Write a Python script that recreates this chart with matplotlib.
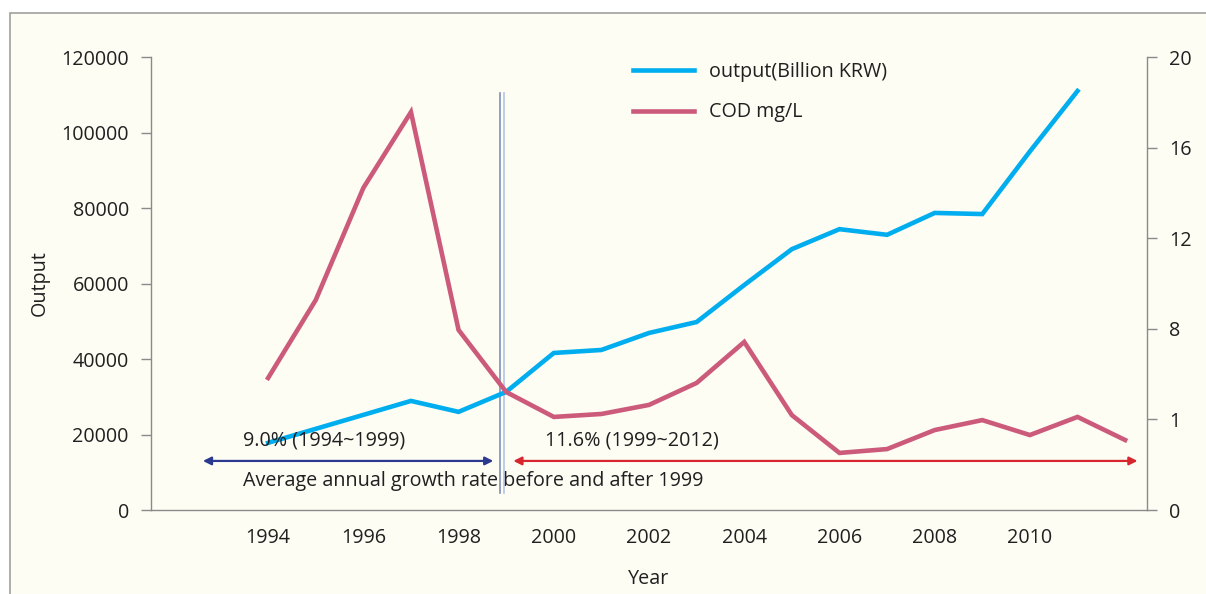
import numpy as np
import matplotlib.pyplot as plt
from matplotlib.patches import Rectangle
from matplotlib.lines import Line2D

plt.rcParams['font.family'] = ['Open Sans', 'DejaVu Sans']

# data
out_years = [1994, 1995, 1996, 1997, 1998, 1999, 2000, 2001, 2002, 2003,
             2004, 2005, 2006, 2007, 2008, 2009, 2010, 2011]
output = [17800, 21500, 25200, 28900, 26000, 31300, 41600, 42400, 46900, 49800,
          59600, 69100, 74400, 72900, 78700, 78400, 95000, 111000]

cod_years = [1994, 1995, 1996, 1997, 1998, 1999, 2000, 2001, 2002, 2003,
             2004, 2005, 2006, 2007, 2008, 2009, 2010, 2011, 2012]
cod = [5.83, 9.27, 14.22, 17.57, 7.95, 5.21, 4.11, 4.24, 4.64, 5.61,
       7.42, 4.19, 2.52, 2.69, 3.53, 3.97, 3.31, 4.11, 3.09]

xticks = [1994, 1996, 1998, 2000, 2002, 2004, 2006, 2008, 2010]
left_ticks = [0, 20000, 40000, 60000, 80000, 100000, 120000]
right_ticks = [0, 4, 8, 12, 16, 20]
right_labels = ['0', '1', '8', '12', '16', '20']

blue = '#00AEEF'
pink = '#CB5A7B'
cream = '#FDFDF4'
grey = '#8A8A8A'
txt = '#231F20'
fs = 14.2

fig = plt.figure(figsize=(12.06, 5.94), dpi=100)
fig.patch.set_facecolor('white')
fig.add_artist(Rectangle((10 / 1206, -0.01), 1.0, 0.9781 + 0.01,
                         transform=fig.transFigure, facecolor=cream,
                         edgecolor='#A0A0A0', linewidth=1.2, zorder=-10))

ax = fig.add_axes([0.1252, 0.1414, 0.8259, 0.7626])
ax.set_facecolor('none')
ax2 = ax.twinx()

ax.plot(out_years, output, color=blue, lw=3.3, solid_joinstyle='miter', zorder=3)
ax2.plot(cod_years, cod, color=pink, lw=3.3, solid_joinstyle='miter', zorder=2)

ax.set_xlim(1991.54, 2012.46)
ax.set_ylim(0, 120000)
ax2.set_ylim(0, 20)

ax.set_xticks(xticks)
ax.set_xticklabels([str(y) for y in xticks])
ax.set_yticks(left_ticks)
ax2.set_yticks(right_ticks)
ax2.set_yticklabels(right_labels)

for a in (ax, ax2):
    a.spines['top'].set_visible(False)
    for s in ('left', 'right', 'bottom'):
        a.spines[s].set_color(grey)
        a.spines[s].set_linewidth(1.0)
    a.tick_params(axis='y', length=7, width=1.0, color=grey, labelsize=fs,
                  labelcolor=txt, pad=9)
ax.spines['right'].set_visible(False)
ax2.spines['left'].set_visible(False)
ax2.spines['bottom'].set_visible(False)
ax.tick_params(axis='x', length=0, labelsize=fs, labelcolor=txt, pad=13)

ax.set_ylabel('Output', fontsize=fs, color=txt, labelpad=8)
ax.set_xlabel('Year', fontsize=fs, color=txt, labelpad=15)

# 1999 divider
ax.axvline(1998.87, ymin=0.038, ymax=0.92, color='#7F8FBF', lw=1.2, zorder=1)
ax.axvline(1998.95, ymin=0.038, ymax=0.92, color='#B4C4E4', lw=1.2, zorder=1)

# growth-rate arrows
arrow_y = 13000
ax.annotate('', xy=(1992.63, arrow_y), xytext=(1998.73, arrow_y),
            arrowprops=dict(arrowstyle='<|-|>', color='#2B3A8F', lw=1.6,
                            mutation_scale=12, shrinkA=0, shrinkB=0))
ax.annotate('', xy=(1999.15, arrow_y), xytext=(2012.26, arrow_y),
            arrowprops=dict(arrowstyle='<|-|>', color='#D7262D', lw=1.6,
                            mutation_scale=12, shrinkA=0, shrinkB=0))

ax.text(1993.47, 18300, '9.0% (1994~1999)', fontsize=fs, color=txt,
        va='center', ha='left')
ax.text(1999.82, 18300, '11.6% (1999~2012)', fontsize=fs, color=txt,
        va='center', ha='left')
ax.text(1993.47, 7700, 'Average annual growth rate before and after 1999',
        fontsize=fs, color=txt, va='center', ha='left')

handles = [Line2D([], [], color=blue, lw=3.3),
           Line2D([], [], color=pink, lw=3.3)]
fig.legend(handles, ['output(Billion KRW)', 'COD mg/L'], loc='upper left',
           bbox_to_anchor=(615 / 1206, 1 - 44 / 594), frameon=False,
           fontsize=fs, handlelength=3.1, handletextpad=0.75,
           labelspacing=1.05, labelcolor=txt)

fig.savefig('out.png', dpi=100, facecolor=fig.get_facecolor())
